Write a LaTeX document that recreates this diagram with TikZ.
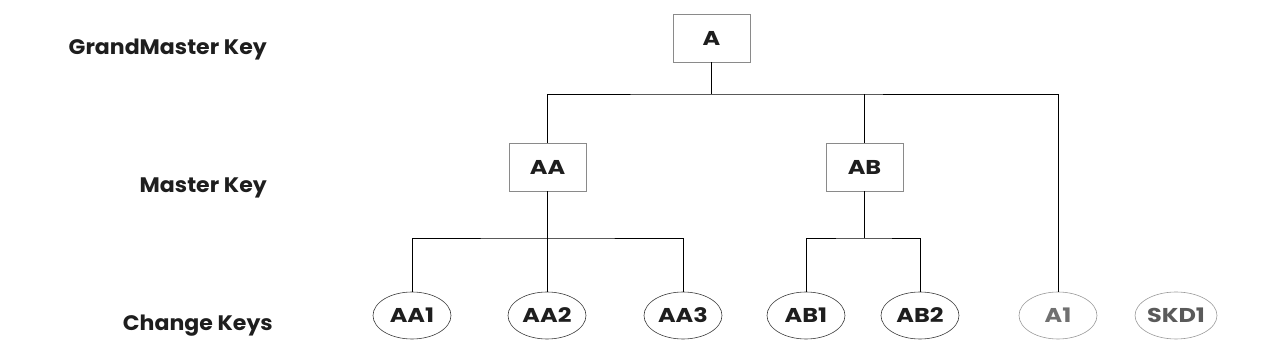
\documentclass[tikz,border=0pt]{standalone}
\usepackage{fontspec}
\setmainfont{Poppins}
\newfontfamily\nodefont[FakeStretch=1.2]{Poppins}
\newfontfamily\levelfont[FakeStretch=1.05]{Poppins}
\usetikzlibrary{shapes.geometric}
\definecolor{boxgray}{HTML}{8A8A8A}
\definecolor{txt}{HTML}{1E1E1E}
\definecolor{ellline}{HTML}{3C3C3C}
\definecolor{lightline}{HTML}{9A9A9A}
\definecolor{greytxt}{HTML}{707070}
\definecolor{darkgreytxt}{HTML}{5A5A5A}
\tikzset{
  keybox/.style={draw=boxgray, line width=0.8pt, minimum width=77pt, minimum height=48pt, inner sep=0pt, font=\nodefont\fontsize{20}{22}\selectfont\bfseries, text=txt},
  keyell/.style={ellipse, draw=ellline, line width=0.6pt, minimum width=78pt, minimum height=47pt, inner sep=0pt, font=\nodefont\fontsize{20}{22}\selectfont\bfseries, text=txt},
  spareell/.style={keyell, draw=lightline, text=greytxt},
  level/.style={anchor=base east, font=\levelfont\fontsize{21}{24}\selectfont\bfseries, text=txt, inner sep=0pt},
  conn/.style={draw=black, line width=0.8pt}
}
\begin{document}
\begin{tikzpicture}[x=1pt,y=-1pt]
\useasboundingbox (0,0) rectangle (1278,352);
% level labels
\node[level] (lg) at (267,55) {GrandMaster Key};
\node[level] (lm) at (267,193) {Master Key};
\node[level] (lc) at (273,331) {Change Keys};
% boxes
\node[keybox] (A) at (711.5,38) {A};
\node[keybox] (AA) at (547.5,167) {AA};
\node[keybox] (AB) at (864.5,167) {AB};
% ellipses
\node[keyell] (AA1) at (412,315.5) {AA1};
\node[keyell] (AA2) at (547,315.5) {AA2};
\node[keyell] (AA3) at (683,315.5) {AA3};
\node[keyell] (AB1) at (806,315.5) {AB1};
\node[keyell] (AB2) at (920,315.5) {AB2};
\node[spareell] (A1) at (1058,315.5) {A1};
\node[spareell, text=darkgreytxt] (SKD1) at (1176,315.5) {SKD1};
% junctions
\coordinate (jA) at (711.5,94);
\coordinate (jAA) at (547.5,238);
\coordinate (jAB) at (864.5,238);
% connectors
\draw[conn] (A.south) -- (jA);
\draw[conn] (AA.north) |- (jA) -| (A1.north);
\draw[conn] (AB.north) -- (AB.north |- jA);
\draw[conn] (AA.south) -- (jAA);
\draw[conn] (AA1.north) |- (jAA) -| (AA3.north);
\draw[conn] (AA2.north) -- (AA2.north |- jAA);
\draw[conn] (AB.south) -- (jAB);
\draw[conn] (AB1.north) |- (jAB) -| (AB2.north);
\end{tikzpicture}
\end{document}
